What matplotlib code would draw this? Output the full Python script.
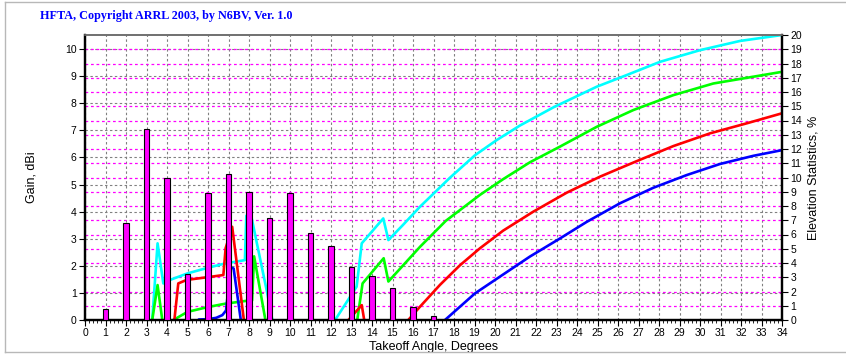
import matplotlib
matplotlib.use("Agg")
import matplotlib.pyplot as plt
from matplotlib.lines import Line2D
from matplotlib.transforms import blended_transform_factory
from matplotlib.ticker import MultipleLocator

# ---------------- data ----------------
title = "HFTA, Copyright ARRL 2003, by N6BV, Ver. 1.0"
x_label = "Takeoff Angle, Degrees"
y_label_left = "Gain, dBi"
y_label_right = "Elevation Statistics, %"

# Elevation statistics bars (percent, right axis)
bar_angles = [1, 2, 3, 4, 5, 6, 7, 8, 9, 10, 11, 12, 13, 14, 15, 16, 17]
bar_pct = [0.77, 6.78, 13.38, 9.94, 3.2, 8.91, 10.27, 8.96, 7.18, 8.91,
           6.08, 5.19, 3.7, 3.09, 2.27, 0.94, 0.28]

# Gain curves (dBi, left axis); negative values fall below the axis
cyan_x = [0, 3.27, 3.28, 3.54, 3.82, 4.15, 5.0, 6.0, 6.8, 7.8, 7.87, 8.1, 8.86, 9.14, 9.15,
          12.19, 12.2, 13.25, 13.5, 14.55, 14.8, 15.5, 16.34, 17.8, 19.02, 20.08, 21.22,
          22.85, 24.96, 26.42, 28.05, 30.0, 31.95, 34.0]
cyan_y = [-1, -1, 0, 2.83, 1.35, 1.48, 1.72, 1.93, 2.08, 2.21, 3.85, 3.87, 1.1, 0, -1,
          -1, 0, 1.23, 2.83, 3.75, 2.95, 3.5, 4.18, 5.25, 6.08, 6.64, 7.18,
          7.85, 8.61, 9.04, 9.53, 9.96, 10.3, 10.52]

green_x = [0, 3.27, 3.28, 3.54, 3.77, 3.78, 4.3, 4.31, 5.0, 6.0, 6.83, 7.8, 8.15, 8.25, 8.8, 8.81,
           13.27, 13.28, 13.54, 14.57, 14.8, 16.34, 17.6, 19.27, 20.4, 21.7, 23.17,
           24.96, 26.75, 28.7, 30.65, 32.6, 34.0]
green_y = [-1, -1, 0, 1.29, 0, -1, -1, 0, 0.3, 0.48, 0.6, 0.7, 0.72, 2.35, 0, -1,
           -1, 0, 1.35, 2.28, 1.42, 2.70, 3.66, 4.62, 5.2, 5.82, 6.40,
           7.13, 7.75, 8.30, 8.73, 8.98, 9.16]

red_x = [0, 4.35, 4.36, 4.55, 4.96, 6.18, 6.75, 6.86, 7.18, 7.75, 7.76,
         12.84, 12.85, 13.5, 13.62, 13.63, 15.76, 15.77, 16.34, 17.32, 18.29, 19.27,
         20.4, 21.87, 23.5, 25.12, 26.9, 28.7, 30.49, 32.28, 34.0]
red_y = [-1, -1, 0, 1.35, 1.48, 1.6, 1.66, 2.65, 3.44, 0, -1,
         -1, 0, 0.55, 0, -1, -1, 0, 0.49, 1.3, 2.02, 2.65,
         3.3, 4.0, 4.7, 5.29, 5.86, 6.42, 6.89, 7.26, 7.63]

blue_x = [0, 5.5, 5.55, 6.0, 6.4, 6.7, 6.88, 7.1, 7.25, 7.6, 7.61,
          17.55, 17.56, 19.02, 20.24, 21.7, 23.17, 24.47, 26.1, 27.72, 29.35,
          30.98, 32.6, 34.0]
blue_y = [-1, -1, 0.02, 0.03, 0.08, 0.18, 0.35, 1.95, 1.9, 0, -1,
          -1, 0, 0.98, 1.6, 2.34, 3.01, 3.62, 4.31, 4.88, 5.35,
          5.76, 6.06, 6.27]

x_ticks = list(range(0, 35))
gain_ticks = list(range(0, 11))
pct_ticks = list(range(0, 21))

# ---------------- figure ----------------
plt.rcParams['font.family'] = ['Liberation Sans', 'DejaVu Sans']

W, H = 846, 354
fig = plt.figure(figsize=(W / 100, H / 100), dpi=100)
fig.patch.set_facecolor('white')

L, R, T, B = 85, 782, 35, 320
ax = fig.add_axes([L / W, 1 - B / H, (R - L) / W, (B - T) / H])
ax.set_xlim(0, 34)
ax.set_ylim(0, 10.52)
ax2 = ax.twinx()
ax2.set_ylim(0, 20)

dash = (0, (2.2, 2.2))
ax.set_xticks(x_ticks)
ax.set_yticks(gain_ticks)
ax.xaxis.set_minor_locator(MultipleLocator(0.2))
ax.set_axisbelow(True)
ax.grid(True, axis='both', which='major', color='#808080', linestyle=dash, linewidth=0.8)

# magenta horizontal grid for percent axis
blend = blended_transform_factory(ax.transAxes, ax2.transData)
for p in pct_ticks[1:-1]:
    ax.add_line(Line2D([0, 1], [p, p], transform=blend, color='#ff00ff',
                       linestyle=dash, linewidth=0.9, zorder=0.7))

lw = 1.9
ax.plot(cyan_x, cyan_y, color='#00ffff', linewidth=lw, zorder=2, solid_joinstyle='round')
ax.plot(green_x, green_y, color='#00ff00', linewidth=lw, zorder=2, solid_joinstyle='round')
ax.plot(red_x, red_y, color='#ff0000', linewidth=lw, zorder=2, solid_joinstyle='round')
ax.plot(blue_x, blue_y, color='#0000ff', linewidth=lw, zorder=2, solid_joinstyle='round')

ax2.bar(bar_angles, bar_pct, width=0.28, color='#ff00ff', edgecolor='black',
        linewidth=0.8, zorder=3)
ax2.set_yticks(pct_ticks)

for a in (ax, ax2):
    for s in ('left', 'bottom', 'right'):
        a.spines[s].set_color('black')
        a.spines[s].set_linewidth(1.6)
    a.spines['top'].set_color('#707070')
    a.spines['top'].set_linewidth(1.2)

ax.tick_params(axis='both', which='major', direction='out', length=4, width=0.8,
               labelsize=7.5, pad=2, colors='black')
ax.tick_params(axis='x', which='minor', direction='out', length=2, width=0.6)
ax2.tick_params(axis='y', which='major', direction='out', length=4, width=0.8,
                labelsize=7.5, pad=2)

ax.set_xlabel(x_label, fontsize=9, labelpad=2)
ax.set_ylabel(y_label_left, fontsize=9, labelpad=20)
ax2.set_ylabel(y_label_right, fontsize=9, labelpad=4)

fig.text(40 / W, 1 - 16 / H, title, family=['Liberation Serif'], fontweight='bold',
         color='#0000ff', fontsize=8.7, va='center', ha='left')

# window border
bc = '#b8b8b8'
fig.add_artist(Line2D([4.5 / W, 4.5 / W], [1 - 1.5 / H, 1 - 352 / H], transform=fig.transFigure, color=bc, lw=1))
fig.add_artist(Line2D([4.5 / W, 1], [1 - 1.5 / H, 1 - 1.5 / H], transform=fig.transFigure, color=bc, lw=1))
fig.add_artist(Line2D([4.5 / W, 1], [1 - 352 / H, 1 - 352 / H], transform=fig.transFigure, color=bc, lw=1))

fig.savefig('out.png', dpi=100)
